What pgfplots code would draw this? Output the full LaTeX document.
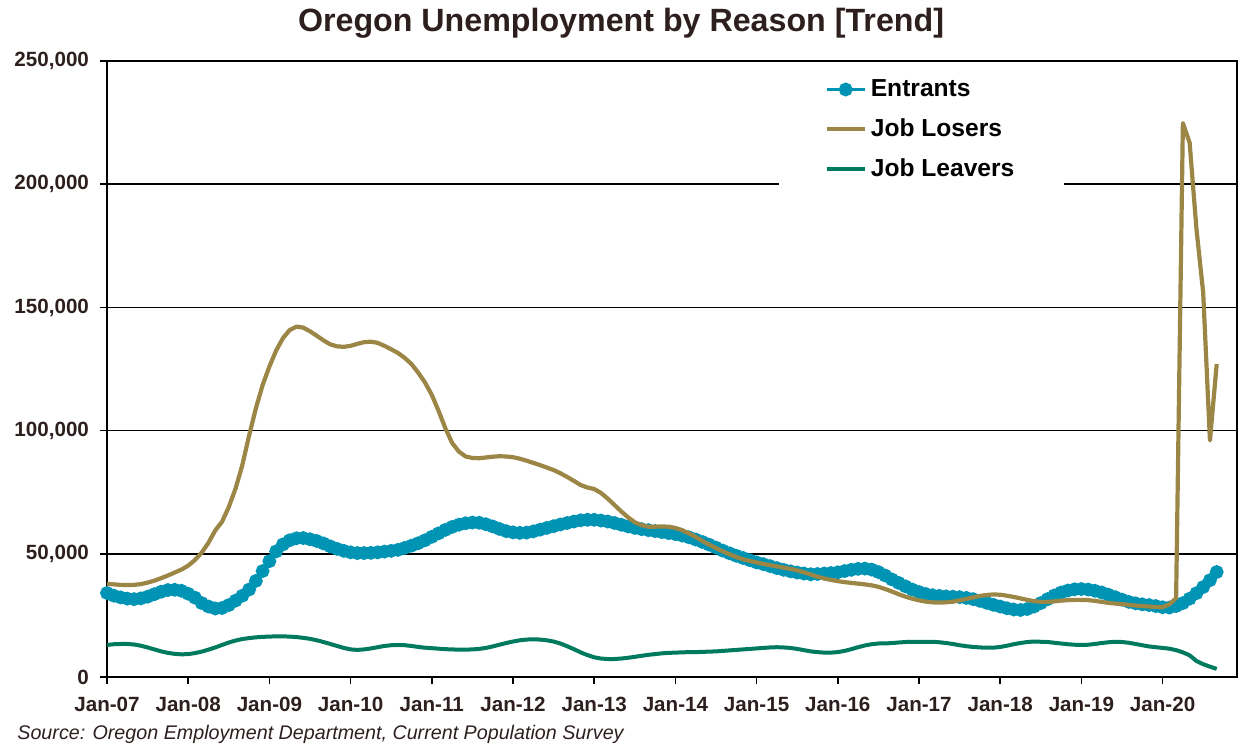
\documentclass[border=0pt]{standalone}
\usepackage{pgfplots}
\usepackage{pgfplotstable}
\usepackage{fontspec}
\setmainfont{Liberation Sans}
\pgfplotsset{compat=1.18}

\definecolor{entc}{RGB}{0,148,180}
\definecolor{losc}{RGB}{155,134,70}
\definecolor{leac}{RGB}{0,122,94}
\definecolor{txt}{RGB}{46,31,31}

% month index from Jan-07 = 0; entrants, job losers, job leavers
\pgfplotstableread{
m ent los lea
0 34100 37800 13000
1 33000 37600 13300
2 32300 37400 13400
3 31800 37300 13400
4 31600 37400 13200
5 31900 37700 12700
6 32600 38300 12000
7 33600 39100 11200
8 34600 40100 10400
9 35300 41200 9800
10 35400 42400 9400
11 35000 43600 9200
12 33800 45200 9300
13 32200 47500 9700
14 30000 50500 10300
15 28600 54500 11100
16 27800 59500 12000
17 28000 63000 13000
18 29200 69000 14000
19 31000 76500 14800
20 33000 86000 15400
21 35500 98000 15800
22 39000 109000 16100
23 43000 118500 16300
24 47000 126000 16400
25 51000 132500 16500
26 53800 137500 16500
27 55500 140800 16400
28 56300 142200 16200
29 56400 141800 15900
30 55900 140300 15500
31 55200 138500 14900
32 54200 136600 14200
33 53000 135000 13400
34 52000 134200 12600
35 51200 134000 11800
36 50600 134400 11200
37 50300 135200 11000
38 50300 135900 11200
39 50400 136100 11600
40 50600 135600 12100
41 50900 134400 12600
42 51200 133000 12900
43 51600 131500 13000
44 52400 129500 12900
45 53300 127000 12600
46 54300 123500 12200
47 55500 119500 11900
48 56900 114500 11700
49 58300 108000 11500
50 59700 101000 11300
51 60900 95000 11200
52 61800 91500 11100
53 62400 89500 11100
54 62700 88900 11200
55 62600 88800 11400
56 62000 89100 11800
57 61100 89400 12400
58 60100 89600 13100
59 59200 89500 13800
60 58700 89200 14400
61 58500 88600 14900
62 58600 87800 15200
63 59100 86900 15300
64 59800 86000 15200
65 60500 85000 14900
66 61200 84000 14400
67 61900 82700 13600
68 62500 81200 12500
69 63100 79600 11300
70 63600 77900 10000
71 63800 76900 8900
72 63800 76300 8000
73 63500 74700 7500
74 63100 72400 7300
75 62500 69800 7300
76 61800 67200 7500
77 61100 64800 7800
78 60500 62800 8200
79 60000 61600 8600
80 59600 61000 9000
81 59200 61000 9300
82 58800 61100 9600
83 58400 61000 9800
84 58000 60500 9900
85 57400 59600 10000
86 56700 58300 10100
87 55800 56800 10100
88 54800 55200 10200
89 53700 53700 10300
90 52500 52300 10400
91 51300 51000 10600
92 50200 49800 10800
93 49200 48700 11000
94 48300 47800 11200
95 47400 47100 11400
96 46500 46500 11600
97 45800 45900 11800
98 45000 45400 12000
99 44200 44900 12100
100 43500 44400 12000
101 42900 43900 11800
102 42400 43300 11400
103 42000 42500 10900
104 41700 41600 10400
105 41800 40700 10100
106 42000 40000 9900
107 42200 39400 9900
108 42500 38900 10100
109 43000 38500 10600
110 43500 38200 11300
111 43900 37900 12100
112 44000 37600 12800
113 43600 37200 13300
114 42600 36600 13600
115 41200 35700 13600
116 39600 34700 13800
117 38200 33600 14000
118 36800 32600 14200
119 35500 31800 14300
120 34500 31100 14300
121 33700 30600 14300
122 33200 30300 14300
123 32900 30200 14100
124 32700 30300 13800
125 32600 30600 13400
126 32400 31100 12900
127 32100 31700 12500
128 31600 32300 12200
129 30900 32900 12000
130 30100 33300 11900
131 29300 33500 11900
132 28600 33400 12200
133 27900 33000 12700
134 27400 32500 13300
135 27200 31900 13800
136 27600 31300 14200
137 28600 30800 14400
138 30000 30500 14300
139 31600 30500 14200
140 33100 30700 13900
141 34300 31000 13600
142 35100 31200 13300
143 35600 31300 13100
144 35700 31300 13000
145 35500 31200 13100
146 35000 30900 13400
147 34300 30500 13800
148 33400 30100 14100
149 32400 29800 14300
150 31400 29600 14200
151 30500 29300 13900
152 29900 29000 13400
153 29500 28800 12900
154 29200 28600 12400
155 28800 28400 12100
156 28300 28300 11800
157 28200 29500 11500
158 28800 32000 10900
159 30000 224800 10000
160 31800 216800 8800
161 34000 182000 6500
162 36500 156000 5200
163 39300 96000 4200
164 42600 127000 3300
}\oregon

\begin{document}
\begin{tikzpicture}
\useasboundingbox (0,0) rectangle (622.5pt,372.5pt);
\begin{axis}[
    at={(53.5pt,34pt)}, anchor=south west,
    scale only axis, width=565pt, height=308pt,
    xmin=0, xmax=167,
    ymin=0, ymax=250000,
    scaled y ticks=false,
    clip mode=individual,
    xtick={0,12,...,156},
    xticklabels={Jan-07,Jan-08,Jan-09,Jan-10,Jan-11,Jan-12,Jan-13,Jan-14,Jan-15,Jan-16,Jan-17,Jan-18,Jan-19,Jan-20},
    ytick={0,50000,100000,150000,200000,250000},
    yticklabels={0,{50,000},{100,000},{150,000},{200,000},{250,000}},
    ymajorgrids,
    grid style={black, line width=0.75pt},
    axis line style={black, line width=1.2pt},
    tick align=outside, major tick length=3.5pt,
    tick style={black, line width=0.8pt},
    xtick pos=bottom, ytick pos=left,
    ticklabel style={font=\fontsize{10.3}{12}\selectfont\bfseries, text=txt},
    xticklabel style={yshift=-3pt},
    yticklabel style={xshift=-2pt},
    legend style={at={(0.594,0.99)}, anchor=north west, draw=none, fill=white,
        inner xsep=23pt, inner ysep=4pt, row sep=5.5pt,
        font=\fontsize{12.3}{14}\selectfont\bfseries},
    legend cell align=left,
    legend image code/.code={\draw[mark repeat=2,mark phase=2,#1] plot coordinates {(0pt,0pt) (9.5pt,0pt) (19pt,0pt)};},
]
\addplot[entc, line width=1.5pt, mark=*, mark size=2.7pt] table[x=m,y=ent]{\oregon};
\addplot[losc, line width=2.1pt, line join=round] table[x=m,y=los]{\oregon};
\addplot[leac, line width=2pt] table[x=m,y=lea]{\oregon};
\legend{Entrants, Job Losers, Job Leavers}
\end{axis}
\node[anchor=base, font=\fontsize{16.1}{19}\selectfont\bfseries, text=txt] at (310.5pt,356.5pt) {Oregon Unemployment by Reason [Trend]};
\node[anchor=base west, inner sep=0pt, font=\fontsize{9.85}{11}\selectfont\itshape, text=txt] at (8.5pt,3pt) {Source: Oregon Employment Department, Current Population Survey};
\end{tikzpicture}
\end{document}
